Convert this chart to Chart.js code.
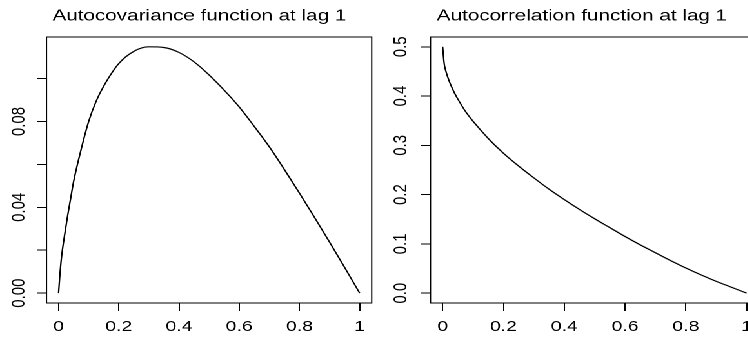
<!DOCTYPE html>
<html>
<head>
<meta charset="utf-8">
<script src="https://cdn.jsdelivr.net/npm/chart.js@4"></script>
<style>
    html, body { margin: 0; padding: 0; background: #fff; }
    body { width: 748px; height: 345px; overflow: hidden; position: relative; }
    #stretch {
        position: absolute; left: 0; top: 0;
        width: 580px; height: 345px;
        transform: scaleX(1.29); transform-origin: 0 0;
    }
    #left  { position: absolute; left: 0;     top: 0; width: 290px; height: 345px; }
    #right { position: absolute; left: 290px; top: 0; width: 300px; height: 345px; }
</style>
</head>
<body>
<div id="stretch">
    <div id="left"><canvas id="covChart"></canvas></div>
    <div id="right"><canvas id="corChart"></canvas></div>
</div>
<script>
// values
const lagX = [0, 0.005, 0.01, 0.02, 0.03, 0.04, 0.05, 0.075, 0.1, 0.125, 0.15, 0.2, 0.25, 0.3,
    0.35, 0.4, 0.45, 0.5, 0.55, 0.6, 0.65, 0.7, 0.75, 0.8, 0.85, 0.9, 0.95, 1];

const autocov = [0, 0.0095, 0.017, 0.027, 0.036, 0.044, 0.052, 0.067, 0.080, 0.0895, 0.0965,
    0.107, 0.1127, 0.1148, 0.1145, 0.1122, 0.1078, 0.1017, 0.0946, 0.0868, 0.0777, 0.0682,
    0.0576, 0.0466, 0.0353, 0.0238, 0.0120, 0];

const autocor = [0.5, 0.466, 0.452, 0.433, 0.418, 0.405, 0.394, 0.369, 0.349, 0.331, 0.314,
    0.284, 0.258, 0.234, 0.211, 0.190, 0.170, 0.151, 0.133, 0.115, 0.098, 0.082, 0.066,
    0.051, 0.037, 0.024, 0.012, 0];

const xTicks = [0, 0.2, 0.4, 0.6, 0.8, 1];
const xTickLabels = ['0', '0.2', '0.4', '0.6', '0.8', '1'];

const covTicks = [0, 0.02, 0.04, 0.06, 0.08, 0.10];
const covTickLabels = ['0.00', '', '0.04', '', '0.08', ''];

const corTicks = [0, 0.1, 0.2, 0.3, 0.4, 0.5];
const corTickLabels = ['0.0', '0.1', '0.2', '0.3', '0.4', '0.5'];

const FONT = { family: "'Liberation Sans', Arial, sans-serif", size: 15, lineHeight: 1.2 };

// R style box round the plot region, plus the main title
const boxPlugin = {
    id: 'rbox',
    afterDraw(chart, args, opts) {
        const a = chart.chartArea;
        const c = chart.ctx;
        c.save();
        c.strokeStyle = '#000';
        c.lineWidth = 1;
        c.strokeRect(a.left, a.top, a.right - a.left, a.bottom - a.top);

        c.fillStyle = '#000';
        c.font = "16px 'Liberation Sans', Arial, sans-serif";
        c.textAlign = 'center';
        c.textBaseline = 'alphabetic';
        c.fillText(opts.text, (a.left + a.right) / 2 + opts.shift, 20.7);
        c.restore();
    }
};

// R pads the data range by 4% on each side
function rRange(values) {
    const lo = Math.min(...values);
    const hi = Math.max(...values);
    const d = (hi - lo) * 0.04;
    return [lo - d, hi + d];
}

function makeChart(id, title, ys, yTicks, yLabels, opts) {
    const xr = rRange(lagX);
    const yr = rRange(ys);

    return new Chart(document.getElementById(id), {
        type: 'line',
        data: {
            datasets: [{
                data: lagX.map((x, i) => ({ x: x, y: ys[i] })),
                borderColor: '#000',
                borderWidth: 1.15,
                pointRadius: 0,
                fill: false,
                cubicInterpolationMode: 'monotone'
            }]
        },
        options: {
            responsive: true,
            maintainAspectRatio: false,
            animation: false,
            devicePixelRatio: 2,
            layout: { padding: { left: 0, right: 0, top: 37, bottom: 0 } },
            plugins: {
                legend: { display: false },
                tooltip: { enabled: false },
                title: { display: false },
                rbox: { text: title, shift: opts.titleShift }
            },
            scales: {
                x: {
                    type: 'linear',
                    min: xr[0],
                    max: xr[1],
                    bounds: 'data',
                    afterBuildTicks: s => { s.ticks = xTicks.map(v => ({ value: v })); },
                    afterFit: s => { s.height = 42; },
                    border: { display: false },
                    grid: {
                        drawOnChartArea: false,
                        drawTicks: true,
                        tickLength: 8,
                        tickColor: '#000',
                        tickWidth: 1
                    },
                    ticks: {
                        autoSkip: false,
                        maxRotation: 0,
                        color: '#000',
                        font: FONT,
                        padding: 7,
                        callback: (v, i) => xTickLabels[i]
                    }
                },
                y: {
                    type: 'linear',
                    min: yr[0],
                    max: yr[1],
                    bounds: 'data',
                    afterBuildTicks: s => { s.ticks = yTicks.map(v => ({ value: v })); },
                    afterFit: s => { s.width = opts.axisWidth; },
                    border: { display: false },
                    grid: {
                        drawOnChartArea: false,
                        drawTicks: true,
                        tickLength: 7.5,
                        tickColor: '#000',
                        tickWidth: 1
                    },
                    ticks: {
                        autoSkip: false,
                        minRotation: 90,
                        maxRotation: 90,
                        crossAlign: 'center',
                        color: '#000',
                        font: FONT,
                        padding: opts.labelPad,
                        callback: (v, i) => yLabels[i]
                    }
                }
            }
        },
        plugins: [boxPlugin]
    });
}

makeChart('covChart', 'Autocovariance function at lag 1', autocov, covTicks, covTickLabels,
    { axisWidth: 36.05, labelPad: -1, titleShift: -7.5 });

makeChart('corChart', 'Autocorrelation function at lag 1', autocor, corTicks, corTickLabels,
    { axisWidth: 43.7, labelPad: 5, titleShift: -9.9 });
</script>
</body>
</html>
